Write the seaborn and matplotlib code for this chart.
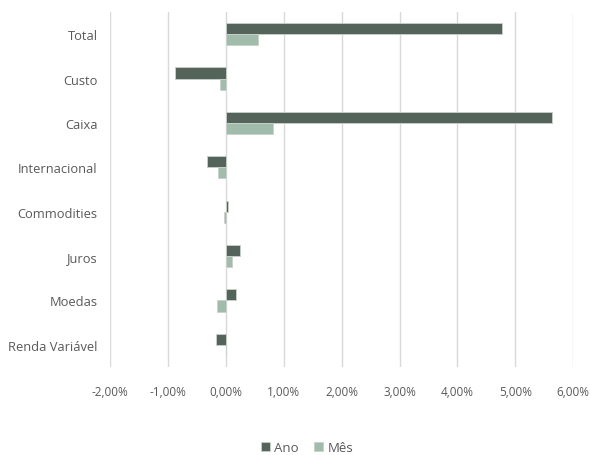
import matplotlib
matplotlib.use("Agg")
import matplotlib.pyplot as plt
import seaborn as sns
import pandas as pd
from matplotlib.ticker import FuncFormatter, MultipleLocator

categories = ["Total", "Custo", "Caixa", "Internacional", "Commodities", "Juros", "Moedas", "Renda Variável"]
ano = [4.77, -0.87, 5.64, -0.33, 0.03, 0.25, 0.18, -0.17]
mes = [0.56, -0.10, 0.81, -0.13, -0.03, 0.10, -0.15, 0.0]
series_names = ["Ano", "Mês"]
colors = ["#52665a", "#9cc0aa"]

df = pd.DataFrame({
    "cat": categories * 2,
    "val": ano + mes,
    "serie": [series_names[0]] * len(categories) + [series_names[1]] * len(categories),
})

sns.set_theme(style="white")
plt.rcParams["font.family"] = ["Open Sans", "DejaVu Sans"]

fig = plt.figure(figsize=(5.9, 4.56), dpi=100)
ax = fig.add_axes([110 / 590, 1 - 368 / 456, (573.3 - 110) / 590, (368 - 13) / 456])

sns.barplot(data=df, y="cat", x="val", hue="serie", order=categories,
            hue_order=series_names, palette=colors, orient="h", width=0.5,
            ax=ax, edgecolor="#c9d1cb", linewidth=0.6, legend=True)

ax.set_xlim(-2, 6)
ax.set_ylim(7.5, -0.5)
ax.xaxis.set_major_locator(MultipleLocator(1))
ax.xaxis.set_major_formatter(FuncFormatter(lambda v, p: f"{v:.2f}%".replace(".", ",")))
ax.grid(axis="x", color="#d9d9d9", linewidth=1)
ax.set_axisbelow(True)
for s in ax.spines.values():
    s.set_visible(False)
ax.tick_params(axis="x", length=0, pad=13, labelsize=8.5, labelcolor="#595959")
ax.tick_params(axis="y", length=0, pad=9, labelsize=9.3, labelcolor="#595959")
ax.set_xlabel("")
ax.set_ylabel("")

handles, labels = ax.get_legend_handles_labels()
ax.legend_.remove()
fig.legend(handles, labels, loc="center", bbox_to_anchor=(0.52, 0.017), ncol=2,
           frameon=False, fontsize=9.5, labelcolor="#595959", handlelength=0.7,
           handleheight=0.7, handletextpad=0.3, columnspacing=1.2)

fig.savefig("out.png", dpi=100)
